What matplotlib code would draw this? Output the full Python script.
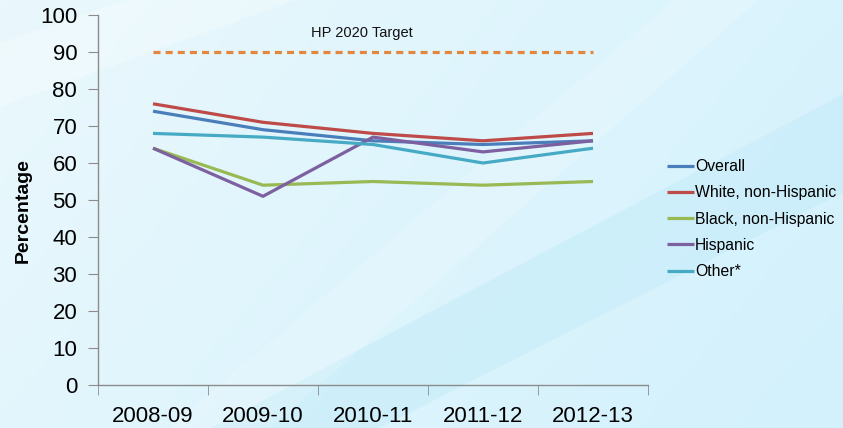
import numpy as np
import matplotlib
matplotlib.use("Agg")
import matplotlib.pyplot as plt
from matplotlib.patches import Polygon

plt.rcParams['font.family'] = ['Liberation Sans', 'DejaVu Sans']

years = ['2008-09', '2009-10', '2010-11', '2011-12', '2012-13']
overall = [74, 69, 66, 65, 66]
white = [76, 71, 68, 66, 68]
black = [64, 54, 55, 54, 55]
hispanic = [64, 51, 67, 63, 66]
other = [68, 67, 65, 60, 64]
target = [90, 90, 90, 90, 90]

series = [
    ('Overall', overall, '#4A7EBB'),
    ('White, non-Hispanic', white, '#BE4B48'),
    ('Black, non-Hispanic', black, '#98B954'),
    ('Hispanic', hispanic, '#7D60A0'),
    ('Other*', other, '#46AAC5'),
]

fig = plt.figure(figsize=(8.43, 4.28), dpi=100)

# background: soft blue gradient with diagonal streaks
bg = fig.add_axes([0, 0, 1, 1], zorder=-10)
gx, gy = np.meshgrid(np.linspace(0, 1, 200), np.linspace(0, 1, 100))
grad = 0.6 * gx + 0.25 * (1 - gy)
cmap = matplotlib.colors.LinearSegmentedColormap.from_list('bg', ['#EAF8FD', '#D2F1FC'])
bg.imshow(grad, cmap=cmap, extent=[0, 1, 0, 1], aspect='auto', origin='lower')
bg.add_patch(Polygon([[0.45, 0], [1, 0.55], [1, 0.78], [0.25, 0]], closed=True,
                     facecolor='#C4ECFA', alpha=0.55, edgecolor='none'))
bg.add_patch(Polygon([[0.0, 0.75], [0.35, 1], [0.15, 1], [0.0, 0.9]], closed=True,
                     facecolor='white', alpha=0.25, edgecolor='none'))
bg.add_patch(Polygon([[0.2, 0], [0.8, 1], [0.9, 1], [0.32, 0]], closed=True,
                     facecolor='white', alpha=0.18, edgecolor='none'))
bg.set_xlim(0, 1)
bg.set_ylim(0, 1)
bg.axis('off')

ax = fig.add_axes([98 / 843, 43 / 428, 550 / 843, 370 / 428])
ax.patch.set_alpha(0)

x = np.arange(len(years))
for name, vals, col in series:
    ax.plot(x, vals, color=col, lw=2.3, label=name, solid_capstyle='butt')
ax.plot(x, target, color='#E3873E', lw=2.3, ls=(0, (2.2, 1.6)))
ax.text(1.9, 95, 'HP 2020 Target', ha='center', va='center', fontsize=10.5, color='#111111')

ax.set_xlim(-0.5, 4.5)
ax.set_ylim(0, 100)
ax.set_yticks(range(0, 101, 10))
ax.set_xticks(x)
ax.set_xticklabels(years, fontsize=16)
ax.set_xticks(np.arange(-0.5, 5, 1), minor=True)
ax.tick_params(axis='x', which='major', length=0, pad=15)
ax.tick_params(axis='x', which='minor', length=7, color='#8C8C8C', direction='out')
ax.tick_params(axis='y', labelsize=16, length=7, color='#8C8C8C', pad=8)
for s in ['top', 'right']:
    ax.spines[s].set_visible(False)
for s in ['left', 'bottom']:
    ax.spines[s].set_color('#8C8C8C')
    ax.spines[s].set_linewidth(1)

fig.text(23 / 843, (428 - 211) / 428, 'Percentage', rotation=90, ha='center', va='center',
         fontsize=14, fontweight='bold')

ax.legend(loc='upper left', bbox_to_anchor=(667 / 843, (428 - 159) / 428),
          bbox_transform=fig.transFigure, frameon=False, fontsize=11.3,
          handlelength=1.7, handletextpad=0.1, labelspacing=0.72, borderpad=0,
          borderaxespad=0)

fig.savefig('out.png', dpi=100)
